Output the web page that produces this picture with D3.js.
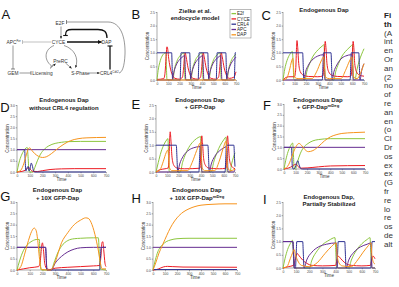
<!DOCTYPE html>
<html><head><meta charset="utf-8">
<script src="https://cdn.jsdelivr.net/npm/d3@7"></script>
<style>body{margin:0;background:#fff}svg{display:block}text{font-family:"Liberation Sans",Arial,sans-serif}</style>
</head><body><svg id="c" width="399" height="287"></svg>
<script>
const seriesNames = ["E2f","CYCE","CRL4","APC","DAP"];
const seriesColors = ["#8dc63f","#ed1c24","#2e3192","#662d91","#f7941d"];
const timeTicks = [0,100,200,300,400,500,600,700];
const yTicks25 = [0,0.5,1,1.5,2,2.5];
const yTicks30 = [0,0.5,1,1.5,2,2.5,3];

// ---- Panel B: Zielke et al. endocycle model
const B_E2f = [[0,0],[10,0.35],[25,0.65],[45,0.88],[65,0.98],[78,1.0],[84,0.4],[88,0.02],[140,0],[155,0.4],[175,0.68],[200,0.87],[225,0.97],[240,1.0],[244,0.4],[248,0.02],[300,0],[315,0.4],[335,0.68],[360,0.87],[385,0.97],[400,1.0],[404,0.4],[408,0.02],[460,0],[475,0.4],[495,0.68],[520,0.87],[545,0.97],[560,1.0],[564,0.4],[568,0.02],[620,0],[635,0.4],[655,0.68],[680,0.87],[700,0.95]];
const B_CYCE = [[0,0.02],[60,0.05],[72,0.3],[80,0.8],[88,1.22],[92,1.2],[105,0.75],[120,0.4],[140,0.15],[160,0.06],[200,0.03],[225,0.1],[235,0.4],[243,0.8],[250,1.0],[258,0.85],[275,0.45],[295,0.18],[320,0.06],[360,0.03],[385,0.1],[395,0.4],[403,0.8],[410,1.0],[418,0.85],[435,0.45],[455,0.18],[480,0.06],[520,0.03],[545,0.1],[555,0.4],[563,0.8],[570,1.0],[578,0.85],[595,0.45],[615,0.18],[640,0.06],[680,0.1],[700,0.3]];
const B_CRL4 = [[0,1],[130,1],[134,0.5],[138,0],[205,0],[209,0.5],[213,1],[290,1],[294,0.5],[298,0],[365,0],[369,0.5],[373,1],[450,1],[454,0.5],[458,0],[525,0],[529,0.5],[533,1],[610,1],[614,0.5],[618,0],[685,0],[689,0.5],[693,1],[700,1]];
const B_APC = [[0,0],[135,0],[150,0.3],[170,0.55],[200,0.75],[230,0.86],[245,0.9],[250,0.5],[255,0],[295,0],[310,0.3],[330,0.55],[360,0.75],[390,0.86],[405,0.9],[410,0.5],[415,0],[455,0],[470,0.3],[490,0.55],[520,0.75],[550,0.86],[565,0.9],[570,0.5],[575,0],[615,0],[630,0.3],[650,0.55],[680,0.75],[700,0.84]];
const B_DAP = [[0,0],[700,0]];

// ---- Panel C: Endogenous Dap
const C_E2f = [[0,0],[15,0.4],[35,0.72],[60,0.95],[80,1.05],[88,0.6],[93,0.05],[100,0],[190,0],[205,0.3],[230,0.6],[260,0.88],[290,1.05],[320,1.18],[345,1.27],[355,1.3],[360,0.6],[364,0.05],[370,0],[440,0],[455,0.3],[480,0.6],[510,0.88],[540,1.05],[570,1.18],[592,1.27],[600,1.3],[604,0.6],[608,0.05],[620,0],[640,0.4],[660,0.72],[680,0.95],[700,1.15]];
const C_CYCE = [[0,0],[20,0.08],[50,0.12],[100,0.12],[110,0.4],[117,1.2],[121,1.45],[127,1.2],[136,0.6],[150,0.3],[175,0.18],[220,0.13],[300,0.12],[345,0.15],[352,0.5],[360,1.2],[365,1.42],[371,1.2],[380,0.6],[395,0.3],[420,0.18],[470,0.13],[560,0.12],[588,0.15],[595,0.5],[602,1.2],[606,1.42],[612,1.2],[620,0.6],[635,0.3],[660,0.18],[700,0.14]];
const C_CRL4 = [[0,1],[170,1],[175,0.5],[180,0],[340,0],[345,0.5],[350,1],[415,1],[420,0.5],[425,0],[580,0],[585,0.5],[590,1],[655,1],[660,0.5],[665,0],[700,0]];
const C_APC = [[0,0],[180,0],[195,0.3],[220,0.55],[260,0.77],[300,0.88],[350,0.93],[358,0.5],[363,0],[425,0],[440,0.3],[465,0.55],[500,0.77],[540,0.88],[595,0.93],[602,0.5],[607,0],[665,0],[680,0.35],[700,0.6]];
const C_DAP = [[0,0],[30,0.05],[55,0.35],[75,0.7],[85,0.8],[92,0.4],[100,0.1],[130,0.05],[250,0.05],[290,0.3],[330,0.7],[350,0.85],[358,0.5],[368,0.1],[400,0.05],[500,0.05],[540,0.35],[575,0.7],[595,0.85],[602,0.5],[612,0.1],[640,0.05],[670,0.25],[700,0.6]];

// ---- Panel D: Endogenous Dap without CRL4 regulation
const D_E2f = [[0,0],[15,0.4],[35,0.75],[55,0.97],[72,1.08],[80,1.1],[88,0.6],[94,0.05],[100,0],[125,0],[140,0.2],[160,0.5],[185,0.8],[215,1.02],[250,1.17],[300,1.28],[350,1.33],[400,1.36],[500,1.37],[700,1.37]];
const D_CYCE = [[0,0],[40,0.03],[70,0.1],[85,0.18],[95,0.2],[105,0.12],[125,0.03],[160,0.02],[200,0.06],[260,0.11],[350,0.14],[450,0.15],[700,0.15]];
const D_CRL4 = [[0,1],[60,1],[66,0.3],[70,0.05],[80,0.2],[88,0.25],[95,0.05],[105,0.2],[112,0.4],[120,0.3],[130,0.05],[140,0],[700,0]];
const D_APC = [[0,1],[700,1]];
const D_DAP = [[0,0],[30,0.08],[55,0.4],[75,0.8],[90,1.05],[100,1.08],[115,0.98],[140,0.82],[170,0.7],[200,0.65],[230,0.68],[270,0.82],[320,1.05],[370,1.25],[420,1.4],[480,1.49],[550,1.53],[700,1.55]];

// ---- Panel E: Endogenous Dap + GFP-Dap
const E_E2f = [[0,0],[20,0.35],[45,0.75],[70,1.02],[95,1.2],[105,1.25],[112,0.6],[117,0.03],[125,0],[215,0],[235,0.35],[265,0.7],[300,0.98],[340,1.18],[380,1.3],[395,1.32],[401,0.6],[405,0.03],[412,0],[490,0],[510,0.35],[540,0.72],[570,1.0],[600,1.2],[620,1.3],[626,0.6],[630,0.03],[640,0],[655,0],[670,0.3],[700,0.72]];
const E_CYCE = [[0,0],[30,0.08],[80,0.12],[108,0.15],[116,0.6],[122,1.3],[126,1.5],[132,1.2],[142,0.55],[158,0.25],[185,0.15],[250,0.12],[390,0.14],[396,0.6],[402,1.2],[406,1.35],[412,1.1],[422,0.5],[438,0.25],[465,0.15],[560,0.12],[620,0.14],[625,0.6],[630,1.2],[634,1.35],[640,1.1],[650,0.5],[665,0.25],[690,0.14],[700,0.12]];
const E_CRL4 = [[0,1],[180,1],[186,0.5],[192,0],[380,0],[386,0.5],[392,1],[460,1],[466,0.5],[472,0],[612,0],[618,0.5],[624,1],[690,1],[696,0.5],[700,0.2]];
const E_APC = [[0,0],[192,0],[210,0.3],[240,0.58],[280,0.78],[330,0.9],[395,0.95],[402,0.5],[407,0],[472,0],[490,0.3],[520,0.58],[560,0.78],[600,0.9],[628,0.95],[634,0.5],[638,0],[690,0],[700,0.1]];
const E_DAP = [[0,0],[35,0.08],[65,0.4],[90,0.72],[105,0.82],[113,0.5],[120,0.15],[140,0.05],[280,0.05],[320,0.35],[360,0.8],[385,1.05],[395,1.1],[402,0.6],[410,0.15],[430,0.05],[520,0.05],[560,0.4],[600,0.95],[620,1.15],[628,0.6],[636,0.15],[660,0.05],[700,0.1]];

// ---- Panel F: Endogenous Dap + GFP-Dap mDeg
const F_E2f = [[0,0],[15,0.4],[35,0.8],[55,1.05],[75,1.2],[82,0.6],[88,0.02],[100,0],[115,0.3],[140,0.7],[170,1.0],[200,1.15],[250,1.3],[300,1.36],[400,1.4],[700,1.4]];
const F_CYCE = [[0,0],[40,0.05],[70,0.12],[90,0.2],[105,0.22],[120,0.12],[150,0.04],[200,0.05],[300,0.1],[400,0.14],[700,0.16]];
const F_CRL4 = [[0,1],[65,1],[72,0.1],[80,0],[95,0.05],[110,0.3],[120,0.38],[130,0.2],[145,0.02],[160,0],[700,0]];
const F_APC = [[0,1],[700,1]];
const F_DAP = [[0,0],[40,0.2],[70,0.6],[100,1.0],[130,1.18],[150,1.1],[180,0.9],[210,0.8],[250,0.85],[300,1.05],[350,1.3],[400,1.48],[450,1.58],[500,1.64],[600,1.68],[700,1.7]];

// ---- Panel G: Endogenous Dap + 10X GFP-Dap
const G_E2f = [[0,0],[20,0.4],[50,0.85],[80,1.1],[120,1.28],[160,1.35],[175,1.35],[182,0.6],[188,0.02],[200,0],[270,0],[290,0.3],[320,0.75],[350,1.05],[400,1.3],[450,1.38],[500,1.4],[600,1.42],[640,1.42],[648,0.6],[655,0.05],[700,0]];
const G_CYCE = [[0,0],[50,0.05],[100,0.1],[170,0.15],[185,0.5],[195,1.1],[200,1.2],[208,0.9],[218,0.3],[235,0.05],[260,0.02],[300,0.08],[400,0.12],[500,0.15],[600,0.18],[650,0.2],[660,0.6],[668,1.2],[675,1.25],[682,0.9],[692,0.3],[700,0.15]];
const G_CRL4 = [[0,1],[225,1],[230,0.5],[236,0],[650,0],[656,0.5],[662,1],[700,1]];
const G_APC = [[0,1],[225,1],[230,0.5],[235,0],[270,0],[300,0.3],[350,0.6],[400,0.8],[450,0.92],[500,0.98],[600,1.0],[700,1.0]];
const G_DAP = [[0,0],[30,0.15],[60,0.7],[90,1.3],[115,1.7],[135,1.85],[150,1.75],[165,1.2],[175,0.6],[185,0.15],[195,0.02],[265,0],[300,0.35],[350,1.2],[400,1.65],[450,2.0],[500,2.2],[540,2.3],[560,2.28],[590,2.0],[620,1.4],[645,0.7],[660,0.2],[670,0.05],[700,0.05]];

// ---- Panel H: Endogenous Dap + 10X GFP-Dap mDeg
const H_E2f = [[0,0],[20,0.45],[40,0.8],[60,1.0],[80,1.12],[110,1.25],[150,1.33],[200,1.38],[300,1.4],[700,1.4]];
const H_CYCE = [[0,0],[30,0.02],[60,0.08],[90,0.14],[120,0.16],[160,0.15],[250,0.13],[700,0.12]];
const H_CRL4 = [[0,0.02],[700,0.02]];
const H_APC = [[0,1],[700,1]];
const H_DAP = [[0,0],[25,0.35],[50,0.75],[75,1.05],[100,1.35],[130,1.7],[160,2.0],[200,2.3],[250,2.55],[300,2.7],[350,2.8],[400,2.86],[500,2.9],[600,2.92],[700,2.92]];

// ---- Panel I: Endogenous Dap, partially stabilized
const I_E2f = [[0,0],[15,0.35],[35,0.7],[55,0.92],[72,1.05],[78,0.6],[83,0.03],[90,0],[200,0],[220,0.3],[260,0.65],[300,0.88],[350,1.05],[395,1.15],[402,0.6],[407,0.03],[415,0],[500,0],[520,0.3],[560,0.68],[600,0.92],[640,1.08],[662,1.15],[668,0.6],[673,0.03],[680,0],[700,0]];
const I_CYCE = [[0,0],[40,0.05],[80,0.1],[95,0.35],[108,0.55],[120,0.48],[150,0.3],[180,0.18],[220,0.1],[300,0.08],[400,0.1],[410,0.3],[420,0.45],[440,0.35],[470,0.2],[520,0.1],[600,0.08],[665,0.1],[675,0.3],[685,0.45],[700,0.35]];
const I_CRL4 = [[0,1],[75,1],[80,0.5],[85,0],[95,0],[100,0.5],[105,1],[150,1],[155,0.5],[160,0],[410,0],[415,0.5],[420,1],[470,1],[475,0.5],[480,0],[668,0],[673,0.5],[678,1],[700,1]];
const I_APC = [[0,1],[75,1],[82,0.5],[88,0],[160,0],[180,0.3],[220,0.6],[270,0.8],[330,0.9],[405,0.95],[410,0.5],[415,0],[480,0],[500,0.3],[540,0.6],[590,0.8],[640,0.9],[668,0.95],[673,0.5],[678,0],[700,0]];
const I_DAP = [[0,0],[30,0.05],[55,0.35],[75,0.6],[85,0.7],[95,0.5],[110,0.3],[140,0.1],[200,0.05],[260,0.2],[320,0.55],[370,0.82],[405,0.95],[412,0.5],[425,0.2],[450,0.08],[520,0.05],[560,0.25],[610,0.6],[650,0.85],[670,0.95],[676,0.5],[690,0.2],[700,0.15]];

// caption fragments visible at the right edge
const captionBold = ["Fi","th"];
const captionLines = ["(A","int","en","Or","an","(2","no","of","re","an","en","(o","Cl","Dr","os","ex","ex","(G","fr","re","lo","re","os","de","alt"];

// ---- layout (positions only)
const layout = [
 {L:"B", lx:131.5, ly:18.5, x0:157, x1:236, yb:80, yt:12, vmax:2.5, ticks:yTicks25, tx:195, t1y:12.5, t2y:19.5, title:["Zielke et al.","endocycle model"], data:[B_E2f,B_CYCE,B_CRL4,B_APC,B_DAP], legend:true},
 {L:"C", lx:261.5, ly:19.5, x0:283, x1:364, yb:80, yt:12, vmax:2.5, ticks:yTicks25, tx:324, t1y:12, title:["Endogenous Dap"], data:[C_E2f,C_CYCE,C_CRL4,C_APC,C_DAP]},
 {L:"D", lx:0.3, ly:111.5, x0:17, x1:106, yb:172, yt:105, vmax:3.0, ticks:yTicks30, tx:64, t1y:102, t2y:109.5, title:["Endogenous Dap","without CRL4 regulation"], data:[D_E2f,D_CYCE,D_CRL4,D_APC,D_DAP]},
 {L:"E", lx:131.5, ly:109, x0:156, x1:235, yb:172, yt:105, vmax:2.5, ticks:yTicks25, tx:200, t1y:102, t2y:109, title:["Endogenous Dap","+ GFP-Dap"], data:[E_E2f,E_CYCE,E_CRL4,E_APC,E_DAP]},
 {L:"F", lx:263, ly:110, x0:284, x1:365, yb:169, yt:104, vmax:3.0, ticks:yTicks30, tx:318, t1y:101.5, t2y:109, title:["Endogenous Dap","+ GFP-Dap"], sup:"mDeg", data:[F_E2f,F_CYCE,F_CRL4,F_APC,F_DAP]},
 {L:"G", lx:0.3, ly:200.5, x0:17, x1:106, yb:270, yt:202, vmax:3.0, ticks:yTicks30, tx:57.5, t1y:192, t2y:200, title:["Endogenous Dap","+ 10X GFP-Dap"], data:[G_E2f,G_CYCE,G_CRL4,G_APC,G_DAP]},
 {L:"H", lx:131.5, ly:203, x0:153, x1:237, yb:270, yt:202, vmax:3.0, ticks:yTicks30, tx:197, t1y:192, t2y:200, title:["Endogenous Dap","+ 10X GFP-Dap"], sup:"mDeg", data:[H_E2f,H_CYCE,H_CRL4,H_APC,H_DAP]},
 {L:"I", lx:263, ly:203.5, x0:283, x1:375, yb:268, yt:202, vmax:2.5, ticks:yTicks25, tx:329, t1y:198.5, t2y:205.5, title:["Endogenous Dap,","Partially Stabilized"], data:[I_E2f,I_CYCE,I_CRL4,I_APC,I_DAP]}
];

const svg = d3.select("#c");

function drawPanel(p){
  const g = svg.append("g");
  const x = d3.scaleLinear().domain([0,700]).range([p.x0,p.x1]);
  const y = d3.scaleLinear().domain([0,p.vmax]).range([p.yb,p.yt]);
  const ax = g.append("g").attr("transform",`translate(0,${p.yb})`)
    .call(d3.axisBottom(x).tickValues(timeTicks).tickSize(1.3).tickPadding(0.8));
  const ay = g.append("g").attr("transform",`translate(${p.x0},0)`)
    .call(d3.axisLeft(y).tickValues(p.ticks).tickFormat(d3.format(".1f")).tickSize(1.3).tickPadding(0.8));
  [ax,ay].forEach(a=>{
    a.selectAll("path,line").attr("stroke","#555").attr("stroke-width",0.5);
    a.selectAll("text").attr("font-size",3.4).attr("fill","#444").style("font-family","Liberation Sans, Arial");
  });
  ax.select(".domain").attr("d",`M${p.x0},0H${p.x1}`);
  ay.select(".domain").attr("d",`M0,${p.yb}V${p.yt}`);
  g.append("text").attr("x",(p.x0+p.x1)/2).attr("y",p.yb+9).attr("text-anchor","middle")
    .attr("font-size",4.6).attr("fill","#333").text("Time");
  g.append("text").attr("transform",`translate(${p.x0-8},${(p.yb+p.yt)/2}) rotate(-90)`)
    .attr("text-anchor","middle").attr("font-size",4.6).attr("fill","#333").text("Concentration");
  const line = d3.line().x(d=>x(d[0])).y(d=>y(d[1])).curve(d3.curveMonotoneX);
  p.data.forEach((s,i)=>{
    g.append("path").attr("d",line(s)).attr("fill","none").attr("stroke",seriesColors[i])
      .attr("stroke-width",1.0).attr("stroke-linejoin","round");
  });
  const t1 = g.append("text").attr("x",p.tx).attr("y",p.t1y).attr("text-anchor","middle")
    .attr("font-size",6).attr("font-weight","bold").attr("fill","#222").text(p.title[0]);
  if(p.title[1]){
    const t2 = g.append("text").attr("x",p.tx).attr("y",p.t2y).attr("text-anchor","middle")
      .attr("font-size",6).attr("font-weight","bold").attr("fill","#222");
    t2.append("tspan").text(p.title[1]);
    if(p.sup) t2.append("tspan").attr("font-size",4.2).attr("dy",-2.4).text(p.sup);
  }
  g.append("text").attr("x",p.lx).attr("y",p.ly).attr("font-size",13).attr("fill","#111").text(p.L);
  if(p.legend){
    const lg = g.append("g");
    lg.append("rect").attr("x",230).attr("y",9.5).attr("width",21).attr("height",28.5)
      .attr("fill","#fff").attr("stroke","#555").attr("stroke-width",0.4);
    seriesNames.forEach((n,i)=>{
      const yy = 13.6 + i*5.3;
      lg.append("line").attr("x1",231.5).attr("x2",236).attr("y1",yy).attr("y2",yy)
        .attr("stroke",seriesColors[i]).attr("stroke-width",1.3);
      lg.append("text").attr("x",237).attr("y",yy+1.6).attr("font-size",4.6).attr("fill","#222").text(n);
    });
  }
}
layout.forEach(drawPanel);

// ---- Panel A: regulatory diagram
const A = svg.append("g");
const defs = svg.append("defs");
defs.append("marker").attr("id","arr").attr("viewBox","0 0 10 10").attr("refX",9).attr("refY",5)
  .attr("markerWidth",5).attr("markerHeight",5).attr("orient","auto")
  .append("path").attr("d","M0,0L10,5L0,10z").attr("fill","#222");
defs.append("marker").attr("id","arrT").attr("viewBox","0 0 10 10").attr("refX",9).attr("refY",5)
  .attr("markerWidth",3).attr("markerHeight",3).attr("orient","auto")
  .append("path").attr("d","M0,0L10,5L0,10z").attr("fill","#111");
A.append("text").attr("x",1.5).attr("y",18.5).attr("font-size",13).attr("fill","#111").text("A");
function lbl(t,x,y,anchor,sup){
  const tt = A.append("text").attr("x",x).attr("y",y).attr("text-anchor",anchor||"middle")
    .attr("font-size",4.8).attr("fill","#333");
  tt.append("tspan").text(t);
  if(sup) tt.append("tspan").attr("font-size",3).attr("dy",-1.8).text(sup);
}
lbl("E2F",60,24.5);
lbl("APC",6.5,43.5,"start","Fzr");
lbl("CYCE",58.5,43.5);
lbl("DAP",106.5,43.5);
lbl("PreRC",60.5,62.5);
lbl("GEM",13,74.8);
lbl("Licensing",42.5,74.8);
lbl("S-Phase",80.5,74.8);
lbl("CRL4",100,74.8,"start","Cdt2");
function pth(d,w,c,m){
  const e = A.append("path").attr("d",d).attr("fill","none").attr("stroke",c||"#333").attr("stroke-width",w||0.5);
  if(m) e.attr("marker-end",`url(#${m})`);
}
pth("M66.5,22 L108,22 C121,22 125.5,38 125,54 C124.5,67 122,72.5 119,73",0.5);
pth("M66.5,20 V24",0.6);
pth("M61,26.5 V38.5",0.5,"#333","arr");
pth("M22.5,42 H51",0.6,"#999");
pth("M22.5,40 V44",0.6,"#999");
pth("M67,42 H101.5",1.3,"#111","arrT");
pth("M107,38 C107,31.5 104,29.5 98,29.5 L72,29.5 C67,29.5 65.5,31 65.5,35.5",1.3,"#111");
pth("M63.2,35.5 H67.8",1.1,"#111");
pth("M110,69.5 V46",1.3,"#111");
pth("M107.5,46 H112.5",1.1,"#111");
pth("M13,45.5 V69",0.5);
pth("M11,69 H15",0.6);
pth("M19.5,73 H31",0.5);
pth("M31,71 V75",0.6);
pth("M54,45.5 C45,49 43,59 51.5,66",0.5);
pth("M50.3,67.3 L53,64.8",0.6);
pth("M64,45.5 C75,49 79,59 75.5,67.5",0.5,"#333","arr");
pth("M50,68.5 L55.5,63.8",0.5,"#333","arr");
pth("M65.5,63 L71.5,68.3",0.5,"#333","arr");
pth("M89.5,73 H99.5",0.5,"#333","arr");

// ---- caption fragments
const cap = svg.append("g");
captionBold.forEach((t,i)=>{
  cap.append("text").attr("x",384).attr("y",18 + i*8.8).attr("font-size",8).attr("font-weight","bold").attr("fill","#222").text(t);
});
captionLines.forEach((t,i)=>{
  cap.append("text").attr("x",384).attr("y",18 + (i+2)*8.8).attr("font-size",8).attr("fill","#333").text(t);
});
</script></body></html>
